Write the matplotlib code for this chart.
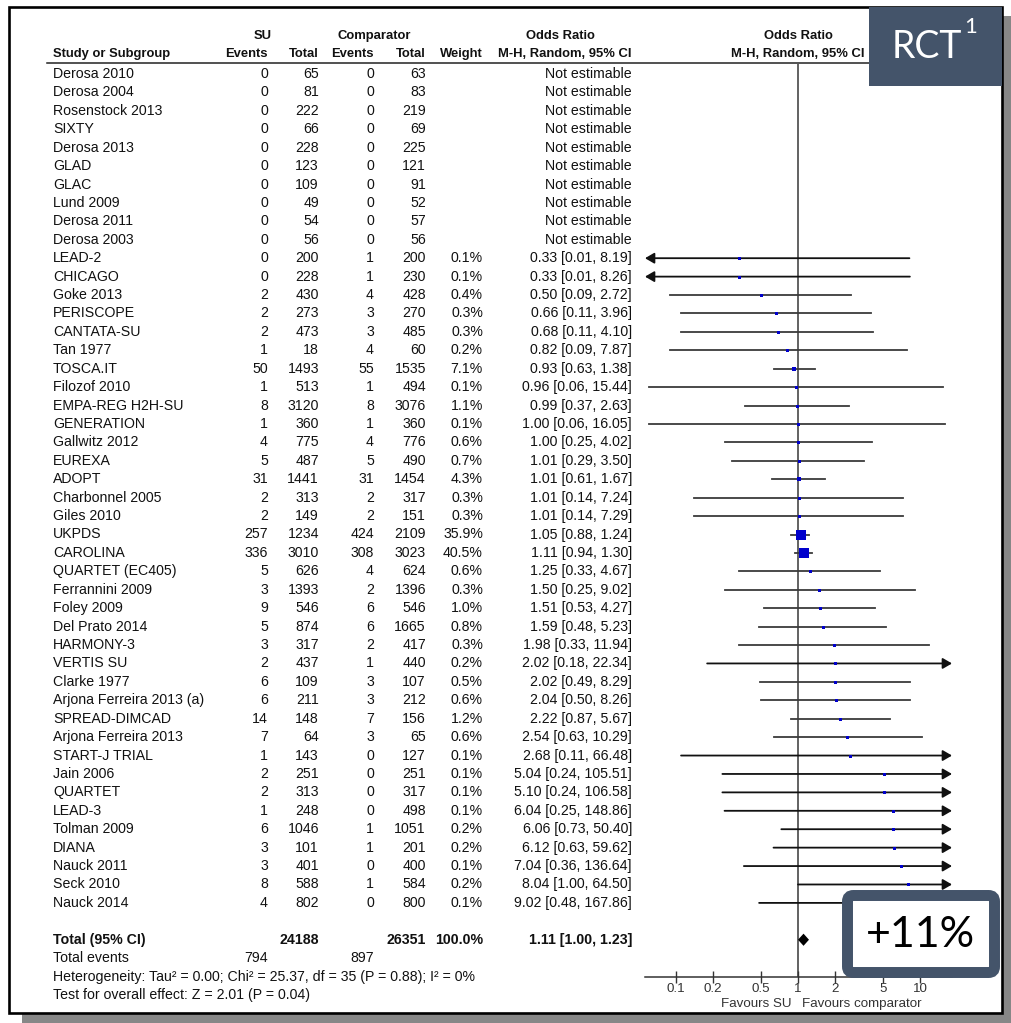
import matplotlib

matplotlib.use("Agg")

import matplotlib.pyplot as plt
import numpy as np
from matplotlib.patches import FancyBboxPatch, Polygon, Rectangle
from matplotlib.ticker import NullLocator

plt.rcParams["font.family"] = ["Liberation Sans", "DejaVu Sans"]

# ---- study data -------------------------------------------------------------
studies = [
    "Derosa 2010", "Derosa 2004", "Rosenstock 2013", "SIXTY", "Derosa 2013",
    "GLAD", "GLAC", "Lund 2009", "Derosa 2011", "Derosa 2003",
    "LEAD-2", "CHICAGO", "Goke 2013", "PERISCOPE", "CANTATA-SU",
    "Tan 1977", "TOSCA.IT", "Filozof 2010", "EMPA-REG H2H-SU", "GENERATION",
    "Gallwitz 2012", "EUREXA", "ADOPT", "Charbonnel 2005", "Giles 2010",
    "UKPDS", "CAROLINA", "QUARTET (EC405)", "Ferrannini 2009", "Foley 2009",
    "Del Prato 2014", "HARMONY-3", "VERTIS SU", "Clarke 1977",
    "Arjona Ferreira 2013 (a)", "SPREAD-DIMCAD", "Arjona Ferreira 2013",
    "START-J TRIAL", "Jain 2006", "QUARTET", "LEAD-3", "Tolman 2009",
    "DIANA", "Nauck 2011", "Seck 2010", "Nauck 2014",
]
su_events = [0, 0, 0, 0, 0, 0, 0, 0, 0, 0,
             0, 0, 2, 2, 2, 1, 50, 1, 8, 1,
             4, 5, 31, 2, 2, 257, 336, 5, 3, 9,
             5, 3, 2, 6, 6, 14, 7, 1, 2, 2,
             1, 6, 3, 3, 8, 4]
su_total = [65, 81, 222, 66, 228, 123, 109, 49, 54, 56,
            200, 228, 430, 273, 473, 18, 1493, 513, 3120, 360,
            775, 487, 1441, 313, 149, 1234, 3010, 626, 1393, 546,
            874, 317, 437, 109, 211, 148, 64, 143, 251, 313,
            248, 1046, 101, 401, 588, 802]
cmp_events = [0, 0, 0, 0, 0, 0, 0, 0, 0, 0,
              1, 1, 4, 3, 3, 4, 55, 1, 8, 1,
              4, 5, 31, 2, 2, 424, 308, 4, 2, 6,
              6, 2, 1, 3, 3, 7, 3, 0, 0, 0,
              0, 1, 1, 0, 1, 0]
cmp_total = [63, 83, 219, 69, 225, 121, 91, 52, 57, 56,
             200, 230, 428, 270, 485, 60, 1535, 494, 3076, 360,
             776, 490, 1454, 317, 151, 2109, 3023, 624, 1396, 546,
             1665, 417, 440, 107, 212, 156, 65, 127, 251, 317,
             498, 1051, 201, 400, 584, 800]
weight = [None] * 10 + [
    0.1, 0.1, 0.4, 0.3, 0.3, 0.2, 7.1, 0.1, 1.1, 0.1,
    0.6, 0.7, 4.3, 0.3, 0.3, 35.9, 40.5, 0.6, 0.3, 1.0,
    0.8, 0.3, 0.2, 0.5, 0.6, 1.2, 0.6, 0.1, 0.1, 0.1,
    0.1, 0.2, 0.2, 0.1, 0.2, 0.1]
odds_ratio = [None] * 10 + [
    0.33, 0.33, 0.50, 0.66, 0.68, 0.82, 0.93, 0.96, 0.99, 1.00,
    1.00, 1.01, 1.01, 1.01, 1.01, 1.05, 1.11, 1.25, 1.50, 1.51,
    1.59, 1.98, 2.02, 2.02, 2.04, 2.22, 2.54, 2.68, 5.04, 5.10,
    6.04, 6.06, 6.12, 7.04, 8.04, 9.02]
ci_low = [None] * 10 + [
    0.01, 0.01, 0.09, 0.11, 0.11, 0.09, 0.63, 0.06, 0.37, 0.06,
    0.25, 0.29, 0.61, 0.14, 0.14, 0.88, 0.94, 0.33, 0.25, 0.53,
    0.48, 0.33, 0.18, 0.49, 0.50, 0.87, 0.63, 0.11, 0.24, 0.24,
    0.25, 0.73, 0.63, 0.36, 1.00, 0.48]
ci_high = [None] * 10 + [
    8.19, 8.26, 2.72, 3.96, 4.10, 7.87, 1.38, 15.44, 2.63, 16.05,
    4.02, 3.50, 1.67, 7.24, 7.29, 1.24, 1.30, 4.67, 9.02, 4.27,
    5.23, 11.94, 22.34, 8.29, 8.26, 5.67, 10.29, 66.48, 105.51, 106.58,
    148.86, 50.40, 59.62, 136.64, 64.50, 167.86]

total_su, total_cmp = 24188, 26351
total_weight = 100.0
total_events_su, total_events_cmp = 794, 897
pooled_or, pooled_low, pooled_high = 1.11, 1.00, 1.23
heterogeneity = "Heterogeneity: Tau\u00b2 = 0.00; Chi\u00b2 = 25.37, df = 35 (P = 0.88); I\u00b2 = 0%"
overall_test = "Test for overall effect: Z = 2.01 (P = 0.04)"
axis_ticks = [0.1, 0.2, 0.5, 1, 2, 5, 10]
axis_tick_labels = ["0.1", "0.2", "0.5", "1", "2", "5", "10"]

# ---- layout (pixels) --------------------------------------------------------
W, H = 1012, 1023
ROW0, ROW_H = 74.0, 18.42
PLOT_X0, PLOT_X1 = 645, 952
PLOT_Y0, PLOT_Y1 = 63, 977
OR_ONE_X, PX_PER_DECADE = 798, 122.0
X_NAME, X_SU_EV, X_SU_TOT, X_CMP_EV, X_CMP_TOT, X_WEIGHT, X_OR = 53, 268, 319, 374, 426, 483, 632
FS, FS_HEAD = 10.2, 9.4
SLATE = "#44546a"
TXT = "#111111"


def row_y(i):
    return ROW0 + ROW_H * i


fig = plt.figure(figsize=(W / 100, H / 100), dpi=100)
canvas = fig.add_axes([0, 0, 1, 1])
canvas.set_xlim(0, W)
canvas.set_ylim(H, 0)
canvas.axis("off")

# drop shadow and frame
canvas.add_patch(Rectangle((1002, 16), 10, H - 16, color="#878787", lw=0))
canvas.add_patch(Rectangle((22, 1013), W - 22, 10, color="#878787", lw=0))
canvas.add_patch(Rectangle((9, 7), 993, 1006, fill=False, ec="black", lw=1.9))

# column headers
head = dict(fontsize=FS_HEAD, fontweight="bold", color=TXT, va="center")
canvas.text(263, 36, "SU", ha="center", **head)
canvas.text(374, 36, "Comparator", ha="center", **head)
canvas.text(560, 36, "Odds Ratio", ha="center", **head)
canvas.text(OR_ONE_X, 36, "Odds Ratio", ha="center", **head)
canvas.text(X_NAME, 54, "Study or Subgroup", ha="left", **head)
canvas.text(X_SU_EV, 54, "Events", ha="right", **head)
canvas.text(X_SU_TOT, 54, "Total", ha="right", **head)
canvas.text(X_CMP_EV, 54, "Events", ha="right", **head)
canvas.text(X_CMP_TOT, 54, "Total", ha="right", **head)
canvas.text(X_WEIGHT, 54, "Weight", ha="right", **head)
canvas.text(X_OR, 54, "M-H, Random, 95% CI", ha="right", **head)
canvas.text(OR_ONE_X, 54, "M-H, Random, 95% CI", ha="center", **head)
canvas.plot([47, 968], [62.5, 62.5], color="#222222", lw=1.1)

# study rows
body = dict(fontsize=FS, color=TXT, va="center")
for i, name in enumerate(studies):
    y = row_y(i)
    canvas.text(X_NAME, y, name, ha="left", **body)
    canvas.text(X_SU_EV, y, str(su_events[i]), ha="right", **body)
    canvas.text(X_SU_TOT, y, str(su_total[i]), ha="right", **body)
    canvas.text(X_CMP_EV, y, str(cmp_events[i]), ha="right", **body)
    canvas.text(X_CMP_TOT, y, str(cmp_total[i]), ha="right", **body)
    if odds_ratio[i] is None:
        canvas.text(X_OR, y, "Not estimable", ha="right", **body)
    else:
        canvas.text(X_WEIGHT, y, f"{weight[i]:.1f}%", ha="right", **body)
        canvas.text(X_OR, y, f"{odds_ratio[i]:.2f} [{ci_low[i]:.2f}, {ci_high[i]:.2f}]",
                    ha="right", **body)

# totals and footer
n = len(studies)
y_tot = row_y(n + 1)
bold = dict(body, fontweight="bold")
canvas.text(X_NAME, y_tot, "Total (95% CI)", ha="left", **bold)
canvas.text(X_SU_TOT, y_tot, str(total_su), ha="right", **bold)
canvas.text(X_CMP_TOT, y_tot, str(total_cmp), ha="right", **bold)
canvas.text(X_WEIGHT, y_tot, f"{total_weight:.1f}%", ha="right", **bold)
canvas.text(X_OR, y_tot, f"{pooled_or:.2f} [{pooled_low:.2f}, {pooled_high:.2f}]", ha="right", **bold)
canvas.text(X_NAME, y_tot + 18.5, "Total events", ha="left", **body)
canvas.text(X_SU_EV, y_tot + 18.5, str(total_events_su), ha="right", **body)
canvas.text(X_CMP_EV, y_tot + 18.5, str(total_events_cmp), ha="right", **body)
canvas.text(X_NAME, y_tot + 37, heterogeneity, ha="left", **body)
canvas.text(X_NAME, y_tot + 55.5, overall_test, ha="left", **body)

canvas.text(OR_ONE_X - 6, 1004, "Favours SU", ha="right", va="center", fontsize=9.6, color="#333333")
canvas.text(OR_ONE_X + 4, 1004, "Favours comparator", ha="left", va="center", fontsize=9.6, color="#333333")

# ---- forest plot ------------------------------------------------------------
x_lo = 10 ** ((PLOT_X0 - OR_ONE_X) / PX_PER_DECADE)
x_hi = 10 ** ((PLOT_X1 - OR_ONE_X) / PX_PER_DECADE)
ax = fig.add_axes([PLOT_X0 / W, 1 - PLOT_Y1 / H, (PLOT_X1 - PLOT_X0) / W, (PLOT_Y1 - PLOT_Y0) / H])
ax.set_xscale("log")
ax.set_xlim(x_lo, x_hi)
ax.set_ylim((PLOT_Y1 - ROW0) / ROW_H, (PLOT_Y0 - ROW0) / ROW_H)
ax.patch.set_visible(False)
for side in ("left", "right", "top"):
    ax.spines[side].set_visible(False)
ax.spines["bottom"].set_color("#333333")
ax.spines["bottom"].set_linewidth(1.1)
ax.set_yticks([])
ax.set_xticks(axis_ticks)
ax.set_xticklabels(axis_tick_labels)
ax.xaxis.set_minor_locator(NullLocator())
ax.tick_params(axis="x", direction="inout", length=8, width=1, color="#333333",
               labelsize=9.6, labelcolor="#333333", pad=0.5)

ax.axvline(1, color="#555555", lw=1.3, zorder=1)

line_kw = dict(color="#3a3a3a", lw=1.3)
arrow_kw = dict(arrowstyle="-|>,head_length=0.55,head_width=0.32", mutation_scale=10,
                color="#111111", lw=1.3, shrinkA=0, shrinkB=0)
for i in range(n):
    if odds_ratio[i] is None:
        continue
    lo, hi = ci_low[i], ci_high[i]
    if lo < x_lo:
        ax.annotate("", xy=(x_lo, i), xytext=(min(hi, x_hi), i), arrowprops=arrow_kw, zorder=2)
    elif hi > x_hi:
        ax.annotate("", xy=(x_hi, i), xytext=(lo, i), arrowprops=arrow_kw, zorder=2)
    else:
        ax.plot([lo, hi], [i, i], zorder=2, **line_kw)
    side_px = max(3.0, 1.65 * np.sqrt(weight[i]))
    ax.scatter([odds_ratio[i]], [i], marker="s", s=(side_px * 0.72) ** 2,
               color="#0000cc", linewidths=0, zorder=3)

diamond = Polygon([(pooled_low, n + 1), (pooled_or, n + 1 - 0.33),
                   (pooled_high, n + 1), (pooled_or, n + 1 + 0.33)],
                  closed=True, color="black", lw=0, zorder=3)
ax.add_patch(diamond)

# ---- callout boxes ----------------------------------------------------------
top = fig.add_axes([0, 0, 1, 1])
top.set_xlim(0, W)
top.set_ylim(H, 0)
top.axis("off")
top.patch.set_visible(False)

top.add_patch(Rectangle((869, 7), 133, 79, color=SLATE, lw=0))
top.text(892, 47, "RCT", ha="left", va="center", fontsize=27, color="white", family="Lato")
top.text(964, 17, "1", ha="left", va="top", fontsize=16, color="white", family="Lato")

top.add_patch(FancyBboxPatch((847.5, 895.5), 147, 77, boxstyle="round,pad=0,rounding_size=6",
                             fc="white", ec=SLATE, lw=7.9))
top.text(920, 935, "+11%", ha="center", va="center", fontsize=31, color="black", family="Lato")

fig.savefig("out.png", dpi=100)
plt.close(fig)
